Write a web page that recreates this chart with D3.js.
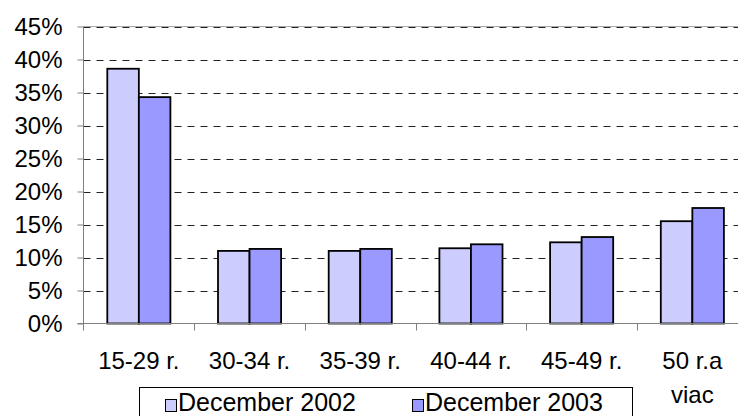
<!DOCTYPE html>
<html>
<head>
<meta charset="utf-8">
<script src="https://cdn.jsdelivr.net/npm/d3@7"></script>
<style>
  body { margin: 0; background: #fff; }
  svg text { font-family: "Liberation Sans", Arial, sans-serif; fill: #000; }
</style>
</head>
<body>
<svg width="738" height="416"></svg>
<script>
var categories = ["15-29 r.", "30-34 r.", "35-39 r.", "40-44 r.", "45-49 r.", "50 r.a viac"];
var seriesNames = ["December 2002", "December 2003"];
var dec2002 = [38.6, 11.0, 11.0, 11.4, 12.3, 15.5];
var dec2003 = [34.3, 11.3, 11.3, 12.0, 13.1, 17.5];
var yTicks = [0, 5, 10, 15, 20, 25, 30, 35, 40, 45];
var colors = ["#ccccff", "#9999ff"];

var svg = d3.select("svg"),
    margin = {top: 26.5, left: 83.5, bottom: 323.5};

var data = categories.map(function (c, i) {
    return {cat: c, values: [dec2002[i], dec2003[i]]};
});

var x = d3.scaleBand().domain(categories).range([margin.left, margin.left + 6 * 110.7]);
var x1 = d3.scaleBand().domain(seriesNames)
    .range([x.bandwidth() * 0.215, x.bandwidth() * 0.785]);
var y = d3.scaleLinear().domain([0, 45]).range([margin.bottom, margin.top]);

// gridlines
svg.append("line")
    .attr("x1", margin.left).attr("x2", 738)
    .attr("y1", y(45)).attr("y2", y(45))
    .attr("stroke", "#aaa").attr("stroke-width", 1);

svg.append("g")
    .selectAll("line")
    .data(yTicks.filter(function (d) { return d > 0; }))
    .enter().append("line")
    .attr("x1", margin.left).attr("x2", 738)
    .attr("y1", function (d) { return Math.round(y(d)) + 0.5; })
    .attr("y2", function (d) { return Math.round(y(d)) + 0.5; })
    .attr("stroke", "#222")
    .attr("stroke-dasharray", "7,6");

// bars
var groups = svg.append("g").selectAll("g")
    .data(data)
    .enter().append("g")
    .attr("transform", function (d) { return "translate(" + x(d.cat) + ",0)"; });

groups.selectAll("rect")
    .data(function (d) { return d.values; })
    .enter().append("rect")
    .attr("x", function (d, i) { return x1(seriesNames[i]); })
    .attr("width", x1.bandwidth())
    .attr("y", function (d) { return y(d); })
    .attr("height", function (d) { return y(0) - y(d); })
    .attr("fill", function (d, i) { return colors[i]; })
    .attr("stroke", "#000")
    .attr("stroke-width", 1.8);

// y axis
var yAxis = svg.append("g")
    .attr("transform", "translate(" + margin.left + ",0)")
    .call(d3.axisLeft(y).tickValues(yTicks).tickFormat(function (d) { return d + "%"; })
        .tickSize(6).tickPadding(15));
yAxis.select(".domain").attr("stroke", "#808080").attr("d", "M0," + y(45) + "V" + (y(0) + 7));
yAxis.selectAll(".tick line").attr("stroke", "#808080");
yAxis.selectAll(".tick text").attr("font-size", "24px").attr("fill", "#000");

// x axis
var xAxis = svg.append("g")
    .attr("transform", "translate(0," + margin.bottom + ")")
    .call(d3.axisBottom(x).tickSize(0).tickFormat(""));
xAxis.select(".domain").attr("stroke", "#808080").attr("d", "M" + (margin.left - 6) + ",0H738");
xAxis.selectAll(".tick").remove();

svg.append("g").selectAll("line")
    .data(categories.slice(1))
    .enter().append("line")
    .attr("x1", function (d) { return Math.round(x(d)) + 0.5; })
    .attr("x2", function (d) { return Math.round(x(d)) + 0.5; })
    .attr("y1", margin.bottom).attr("y2", margin.bottom + 7)
    .attr("stroke", "#808080");

var labels = svg.append("g").selectAll("text")
    .data(categories)
    .enter().append("text")
    .attr("x", function (d) { return x(d) + x.bandwidth() / 2; })
    .attr("y", 369)
    .attr("text-anchor", "middle")
    .attr("font-size", "24px");
labels.each(function (d) {
    var t = d3.select(this);
    var parts = d === "50 r.a viac" ? ["50 r.a", "viac"] : [d];
    parts.forEach(function (p, i) {
        t.append("tspan")
            .attr("x", x(d) + x.bandwidth() / 2)
            .attr("dy", i === 0 ? 0 : 33.5)
            .text(p);
    });
});

// legend
var legend = svg.append("g");
legend.append("rect")
    .attr("x", 139.5).attr("y", 387.5)
    .attr("width", 493).attr("height", 40)
    .attr("fill", "#fff").attr("stroke", "#000");

var legendX = [165, 412];
seriesNames.forEach(function (s, i) {
    legend.append("rect")
        .attr("x", legendX[i] + 0.5).attr("y", 399.5)
        .attr("width", 11).attr("height", 12)
        .attr("fill", colors[i]).attr("stroke", "#000");
    legend.append("text")
        .attr("x", legendX[i] + 13).attr("y", 410.5)
        .attr("font-size", "25px")
        .text(s);
});
</script>
</body>
</html>
